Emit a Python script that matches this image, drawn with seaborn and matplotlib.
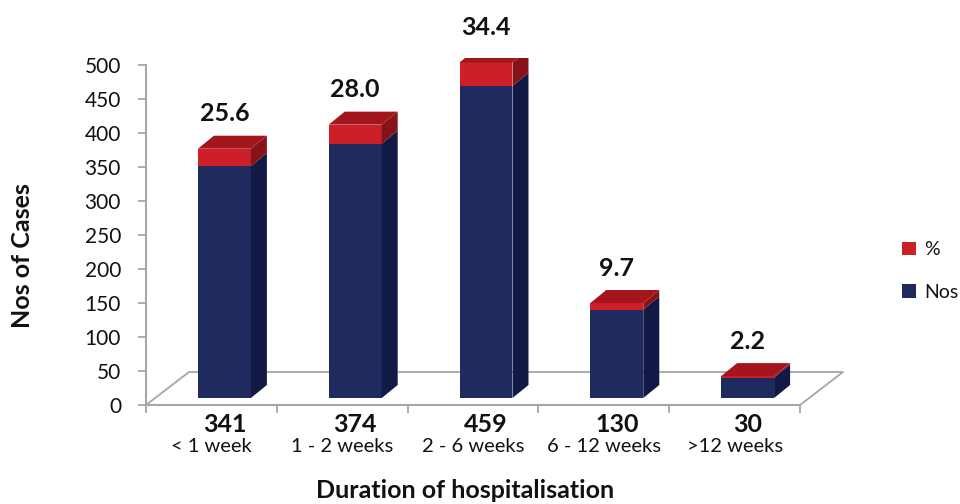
import matplotlib
matplotlib.use("Agg")
import matplotlib.pyplot as plt
from matplotlib.patches import Polygon, Patch
from matplotlib.lines import Line2D
import seaborn as sns
import pandas as pd
import numpy as np

# ---- data -------------------------------------------------------------
categories = ["< 1 week", "1 - 2 weeks", "2 - 6 weeks", "6 - 12 weeks", ">12 weeks"]
nos = [341, 374, 459, 130, 30]
pct = [25.6, 28.0, 34.4, 9.7, 2.2]
y_ticks = [0, 50, 100, 150, 200, 250, 300, 350, 400, 450, 500]

df = pd.DataFrame({"duration": categories, "nos": nos, "pct": pct})
df["total"] = df["nos"] + df["pct"]

# ---- style ------------------------------------------------------------
sns.set_theme(style="white")
plt.rcParams["font.family"] = ["Lato", "DejaVu Sans"]

NAVY = "#1f2a5e"
NAVY_SIDE = "#111944"
RED = "#cc1f27"
RED_TOP = "#a3171c"
RED_SIDE = "#86121a"
GRID = "#a6a6a6"
TEXT = "#111111"

W, H, DPI = 960, 504, 100
fig = plt.figure(figsize=(W / DPI, H / DPI), dpi=DPI)

# wall axes: value axis, floor and category labels (pixel-based placement)
left_px, right_px, zero_px, top_px = 146, 800, 405, 65
wall = fig.add_axes([left_px / W, (H - zero_px) / H,
                     (right_px - left_px) / W, (zero_px - top_px) / H])
wall.set_xlim(-0.5, len(categories) - 0.5)
wall.set_ylim(0, 500)
wall.patch.set_alpha(0)

# bar axes sit slightly in front of the wall to give the 3-D depth look
shift_x, shift_y = 13, 7
bars = fig.add_axes([(left_px + shift_x) / W, (H - zero_px + shift_y) / H,
                     (right_px - left_px) / W, (zero_px - top_px) / H])

bar_w = 0.405
sns.barplot(data=df, x="duration", y="total", color=RED, saturation=1,
            width=bar_w, ax=bars, linewidth=0, errorbar=None)
sns.barplot(data=df, x="duration", y="nos", color=NAVY, saturation=1,
            width=bar_w, ax=bars, linewidth=0, errorbar=None)
bars.set_xlim(-0.5, len(categories) - 0.5)
bars.set_ylim(0, 500)
bars.axis("off")
bars.patch.set_alpha(0)

# depth offsets of the bar faces, converted from pixels to data units
fig.canvas.draw()
px_per_x = bars.bbox.width / (len(categories))
px_per_y = bars.bbox.height / 500
dx = 16 / px_per_x
dy = 13 / px_per_y

for i, row in df.iterrows():
    x0 = i - bar_w / 2
    x1 = i + bar_w / 2
    n, t = row["nos"], row["total"]
    # side faces (navy lower part, red upper part)
    bars.add_patch(Polygon([(x1, 0), (x1 + dx, dy), (x1 + dx, n + dy), (x1, n)],
                           closed=True, facecolor=NAVY_SIDE, edgecolor="none"))
    bars.add_patch(Polygon([(x1, n), (x1 + dx, n + dy), (x1 + dx, t + dy), (x1, t)],
                           closed=True, facecolor=RED_SIDE, edgecolor="none"))
    # top face
    bars.add_patch(Polygon([(x0, t), (x1, t), (x1 + dx, t + dy), (x0 + dx, t + dy)],
                           closed=True, facecolor=RED_TOP, edgecolor="none"))
    # percentage label above the bar
    bars.annotate(f"{row['pct']:.1f}", xy=(i, t), xytext=(0, 35 * 72 / DPI),
                  textcoords="offset points", ha="center", va="center",
                  fontsize=18, fontweight="bold", color=TEXT)
    # case count under the bar
    bars.annotate(f"{int(n)}", xy=(i, 0), xytext=(0, -27 * 72 / DPI),
                  textcoords="offset points", ha="center", va="center",
                  fontsize=18, fontweight="bold", color=TEXT,
                  annotation_clip=False)

# floor outline
fdx = 43 / px_per_x
fdy = 33 / (wall.bbox.height / 500)
n_cat = len(categories)
fx = [-0.5, -0.5 + fdx, n_cat - 0.5 + fdx, n_cat - 0.5]
fy = [0, fdy, fdy, 0]
wall.add_line(Line2D(fx, fy, color=GRID, lw=1.3, clip_on=False))

# axes spines and ticks
for s in ["top", "right"]:
    wall.spines[s].set_visible(False)
for s in ["left", "bottom"]:
    wall.spines[s].set_color(GRID)
    wall.spines[s].set_linewidth(1.5)
wall.set_yticks(y_ticks)
wall.set_yticklabels([str(v) for v in y_ticks], fontsize=15, color=TEXT)
wall.set_xticks(np.arange(-0.5, n_cat, 1.0))
wall.set_xticklabels([])
wall.set_xticks(np.arange(n_cat), minor=True)
wall.set_xticklabels(categories, minor=True, fontsize=14.5, color=TEXT)
wall.tick_params(axis="y", which="major", length=6, width=1.3, color=GRID,
                 direction="out", pad=12, left=True)
wall.tick_params(axis="x", which="major", length=6, width=1.3, color=GRID,
                 direction="out", bottom=True)
wall.tick_params(axis="x", which="minor", length=0, pad=24)
wall.set_xlabel("")
wall.set_ylabel("")
wall.grid(False)

# axis titles
fig.text(23 / W, 1 - 256 / H, "Nos of Cases", rotation=90, ha="center",
         va="center", fontsize=18, fontweight="bold", color=TEXT)
fig.text(465 / W, 1 - 490 / H, "Duration of hospitalisation", ha="center",
         va="center", fontsize=18, fontweight="bold", color=TEXT)

# legend
handles = [Patch(facecolor=RED, edgecolor="none"),
           Patch(facecolor=NAVY, edgecolor="none")]
fig.legend(handles, ["%", "Nos"], loc="center left",
           bbox_to_anchor=(902 / W, 1 - 271 / H), frameon=False,
           borderpad=0, borderaxespad=0,
           fontsize=14, handlelength=0.7, handleheight=0.7,
           labelspacing=1.3, handletextpad=0.45, labelcolor=TEXT)

fig.savefig("out.png", dpi=DPI)
